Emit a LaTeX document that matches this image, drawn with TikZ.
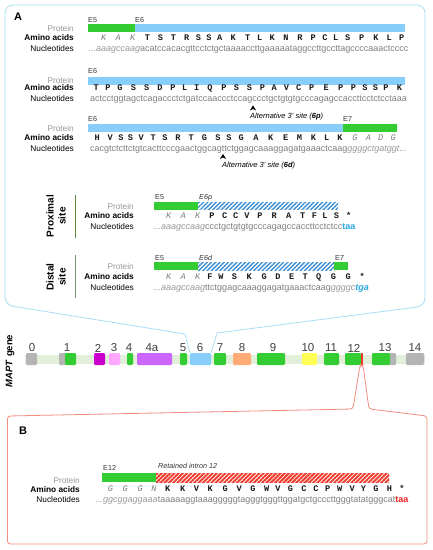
\documentclass[tikz,border=0pt]{standalone}
\usepackage{fontspec}
\setmainfont{Liberation Sans}
\newfontfamily\aafont{Liberation Mono}
\usetikzlibrary{patterns.meta}
\definecolor{exblue}{HTML}{87CEFA}
\definecolor{exgreen}{HTML}{33CC33}
\definecolor{frameblue}{HTML}{A9DDF5}
\definecolor{framered}{HTML}{F28C7E}
\definecolor{bbgreen}{HTML}{E2EFDA}
\definecolor{exgray}{HTML}{B4B4B4}
\definecolor{exmag}{HTML}{CC00CC}
\definecolor{expink}{HTML}{FFA6FF}
\definecolor{expurple}{HTML}{CC66FF}
\definecolor{exorange}{HTML}{FFAA77}
\definecolor{exyellow}{HTML}{FFFF55}
\definecolor{exred}{HTML}{F03C2E}
\definecolor{hatchblue}{HTML}{3D8FD6}
\definecolor{stopcyan}{HTML}{2AA8E0}
\definecolor{stopred}{HTML}{EE2222}
\definecolor{ntgray}{HTML}{808080}
\definecolor{ntlight}{HTML}{9A9A9A}
\definecolor{aaital}{HTML}{808080}
\definecolor{protgray}{HTML}{999999}
\definecolor{aacol}{HTML}{1A1A1A}
\definecolor{proxgreen}{HTML}{5E8C3E}
\definecolor{distgreen}{HTML}{7A9468}
\newcommand\aait[1]{{\aafont\itshape\fontsize{8.6}{9}\selectfont\color{aaital}#1}}
\newcommand\aabf[1]{{\aafont\bfseries\fontsize{8.6}{9}\selectfont\color{aacol}#1}}
\newcommand\ntit[1]{{\itshape\color{ntlight}#1}}
\newcommand\dotsx{{\itshape\color{ntlight}.\kern-0.2pt.\kern-0.2pt.}}
\begin{document}
\begin{tikzpicture}[x=1pt,y=-1pt,
  seq/.style={anchor=base west, inner sep=0pt, font=\fontsize{9}{10.8}\selectfont, text=ntgray},
  rowlbl/.style={anchor=base east, inner sep=0pt, font=\fontsize{8.3}{10}\selectfont},
  prot/.style={rowlbl, text=protgray},
  aalbl/.style={rowlbl, font=\bfseries\fontsize{8.3}{10}\selectfont},
  exlbl/.style={anchor=base west, inner sep=0pt, font=\fontsize{7.2}{8}\selectfont, text=black!80},
  altlbl/.style={anchor=west, inner sep=0pt, font=\itshape\fontsize{7.5}{9}\selectfont},
  gnum/.style={inner sep=0pt, font=\fontsize{11.5}{12}\selectfont, text=black!75},
  panel/.style={inner sep=0pt, font=\bfseries\fontsize{11}{12}\selectfont},
  side/.style={rotate=90, align=center, inner sep=0pt, font=\bfseries\fontsize{10}{12}\selectfont},
  hatchb/.style={preaction={fill=white}, pattern={Lines[angle=45,distance=3pt,line width=1.4pt]}, pattern color=hatchblue},
  hatchr/.style={preaction={fill=white}, pattern={Lines[angle=45,distance=3pt,line width=2pt]}, pattern color=exred},
  exon/.style={rounded corners=1.2pt}
]
\useasboundingbox (0,0) rectangle (432,550);
\fill[white] (0,0) rectangle (432,550);

% ---------- Panel A frame ----------
\draw[frameblue, line width=0.8pt, rounded corners=8pt] (185,334) -- (5,305) -- (5,5) -- (425,5) -- (425,306) -- (217,333);
\draw[frameblue, line width=0.8pt] (185,334) -- (190,353);
\draw[frameblue, line width=0.8pt] (217,333) -- (211,353);
\node[panel] (A) at (18,17) {A};

% ---------- Row 1 ----------
\fill[exgreen] (88,24) rectangle (135,32);
\fill[exblue] (135,24) rectangle (405,32);
\node[exlbl] (r1e5) at (88,22.6) {E5};
\node[exlbl] (r1e6) at (135,22.6) {E6};
\node[prot] (r1p) at (74,31) {Protein};
\node[aalbl] (r1a) at (74,40.5) {Amino acids};
\node[rowlbl] (r1n) at (74,51.3) {Nucleotides};
\node[seq] (s1) at (96,51.3) {\begin{tabular}[b]{@{}*{24}{c@{}}}
\aait K&\aait A&\aait K&\aabf T&\aabf S&\aabf T&\aabf R&\aabf S&\aabf S&\aabf A&\aabf K&\aabf T&\aabf L&\aabf K&\aabf N&\aabf R&\aabf P&\aabf C&\aabf L&\aabf S&\aabf P&\aabf K&\aabf L&\aabf P\\
\ntit{aaa}&\ntit{gcc}&\ntit{aag}&aca&tcc&aca&cgt&tcc&tct&gct&aaa&acc&ttg&aaa&aat&agg&cct&tgc&ctt&agc&ccc&aaa&ctc&ccc
\end{tabular}};
\node[seq, anchor=base east] (d1) at (s1.base west) {\dotsx};

% ---------- Row 2 ----------
\fill[exblue] (88,77) rectangle (405,84.5);
\node[exlbl] (r2e6) at (88,73.6) {E6};
\node[prot] (r2p) at (74,83) {Protein};
\node[aalbl] (r2a) at (74,90.5) {Amino acids};
\node[rowlbl] (r2n) at (74,101.3) {Nucleotides};
\node[seq] (s2) at (90,101.3) {\begin{tabular}[b]{@{}*{25}{c@{}}}
\aabf T&\aabf P&\aabf G&\aabf S&\aabf S&\aabf D&\aabf P&\aabf L&\aabf I&\aabf Q&\aabf P&\aabf S&\aabf S&\aabf P&\aabf A&\aabf V&\aabf C&\aabf P&\aabf E&\aabf P&\aabf P&\aabf S&\aabf S&\aabf P&\aabf K\\
act&cct&ggt&agc&tca&gac&cct&ctg&atc&caa&ccc&tcc&agc&cct&gct&gtg&tgc&cca&gag&cca&cct&tcc&tct&cct&aaa
\end{tabular}};
\fill (249.8,110.6) -- (253,105.4) -- (256.2,110.6) -- (253,108.9) -- cycle;
\node[altlbl] (alt6p) at (250,117) {Alternative 3' site (\textbf{6p})};

% ---------- Row 3 ----------
\fill[exblue] (88,124) rectangle (343,132);
\fill[exgreen] (343,124) rectangle (397,132);
\node[exlbl] (r3e6) at (88,121.6) {E6};
\node[exlbl] (r3e7) at (343,121.6) {E7};
\node[prot] (r3p) at (74,131) {Protein};
\node[aalbl] (r3a) at (74,140.5) {Amino acids};
\node[rowlbl] (r3n) at (74,151.3) {Nucleotides};
\node[seq] (s3) at (90,151.3) {\begin{tabular}[b]{@{}*{24}{c@{}}}
\aabf H&\aabf V&\aabf S&\aabf S&\aabf V&\aabf T&\aabf S&\aabf R&\aabf T&\aabf G&\aabf S&\aabf S&\aabf G&\aabf A&\aabf K&\aabf E&\aabf M&\aabf K&\aabf L&\aabf K&\aait G&\aait A&\aait D&\aait G\\
cac&gtc&tct&tct&gtc&act&tcc&cga&act&ggc&agt&tct&gga&gca&aag&gag&atg&aaa&ctc&aag&\ntit{ggg}&\ntit{gct}&\ntit{gat}&\ntit{ggt}
\end{tabular}};
\node[seq] (d3) at (s3.base east) {\dotsx};
\fill (219.8,159.1) -- (223,153.9) -- (226.2,159.1) -- (223,157.4) -- cycle;
\node[altlbl] (alt6d) at (222,166) {Alternative 3' site (\textbf{6d})};

% ---------- Proximal ----------
\node[side] (prox) at (56,216) {Proximal\\site};
\draw[proxgreen, line width=1pt] (75,195) -- (75,238);
\fill[exgreen] (154,202) rectangle (198,209.5);
\path[hatchb] (198,202) rectangle (338,209.5);
\node[exlbl] (pe5) at (155,199.6) {E5};
\node[exlbl, font=\itshape\fontsize{7.2}{8}\selectfont] (pe6) at (199,199.6) {E6p};
\node[prot] (pp) at (134,209) {Protein};
\node[aalbl] (pa) at (134,218.5) {Amino acids};
\node[rowlbl] (pn) at (134,229.3) {Nucleotides};
\node[seq] (sp) at (161,229.3) {\begin{tabular}[b]{@{}*{15}{c@{}}}
\aait K&\aait A&\aait K&\aabf P&\aabf C&\aabf C&\aabf V&\aabf P&\aabf R&\aabf A&\aabf T&\aabf F&\aabf L&\aabf S&\aabf *\\
\ntit{aaa}&\ntit{gcc}&\ntit{aag}&ccc&tgc&tgt&gtg&ccc&aga&gcc&acc&ttc&ctc&tcc&{\bfseries\color{stopcyan}taa}
\end{tabular}};
\node[seq, anchor=base east] (dp) at (sp.base west) {\dotsx};

% ---------- Distal ----------
\node[side] (dist) at (56,277) {Distal\\site};
\draw[distgreen, line width=1pt] (75,255) -- (75,298);
\fill[exgreen] (154,262) rectangle (198,270);
\path[hatchb] (198,262) rectangle (334,270);
\fill[exgreen] (334,262) rectangle (348,270);
\node[exlbl] (de5) at (155,260.6) {E5};
\node[exlbl, font=\itshape\fontsize{7.2}{8}\selectfont] (de6) at (199,260.6) {E6d};
\node[exlbl] (de7) at (335,260.6) {E7};
\node[prot] (dpr) at (134,269) {Protein};
\node[aalbl] (da) at (134,279.3) {Amino acids};
\node[rowlbl] (dn) at (134,290.3) {Nucleotides};
\node[seq] (sd) at (161,290.3) {\begin{tabular}[b]{@{}*{15}{c@{}}}
\aait K&\aait A&\aait K&\aabf F&\aabf W&\aabf S&\aabf K&\aabf G&\aabf D&\aabf E&\aabf T&\aabf Q&\aabf G&\aabf G&\aabf *\\
\ntit{aaa}&\ntit{gcc}&\ntit{aag}&ttc&tgg&agc&aaa&gga&gat&gaa&act&caa&g\ntit{gg}&\ntit{ggc}&{\bfseries\itshape\color{stopcyan}tga}
\end{tabular}};
\node[seq, anchor=base east] (dd) at (sd.base west) {\dotsx};

% ---------- MAPT gene ----------
\node[rotate=90, inner sep=0pt, font=\bfseries\fontsize{9.5}{11}\selectfont] (mapt) at (10,361) {\textit{MAPT} gene};
\fill[bbgreen] (25,354.5) rectangle (425,363.5);
\foreach \a/\b/\c in {26/37/exgray, 59/66/exgray, 65/76/exgreen, 94/105/exmag, 109/120/expink,
  127/133/exgreen, 137/172/expurple, 180/187/exgreen, 190/211/exblue, 214/226/exgreen,
  233/251/exorange, 257/285/exgreen, 302/317/exyellow, 324/339/exgreen, 345/361/exgreen,
  389/396/exgray, 372/390/exgreen, 406/424/exgray}
  \fill[\c, exon] (\a,353) rectangle (\b,365);
\fill[exred] (361,353) rectangle (362.8,365);
\foreach \x/\t [count=\i] in {32/0, 67/1, 98/2, 114/3, 129/4, 152/4a, 183/5, 200/6, 220/7,
  242/8, 273/9, 308/10, 331/11, 354/12, 385/13, 415/14}
  \node[gnum] (g\i) at (\x,348) {\t};

% ---------- Panel B ----------
\draw[framered, line width=0.8pt, rounded corners=3pt] (7.5,416) -- (353,409) -- (360,365) -- (363,365) -- (369,409) -- (427,416) -- (427,544) -- (7.5,544) -- cycle;
\node[panel] (B) at (23,431) {B};
\fill[exgreen] (102,473) rectangle (156,482);
\path[hatchr] (156,473) rectangle (389,482);
\node[exlbl] (be12) at (103,470.6) {E12};
\node[exlbl, font=\itshape\fontsize{7.2}{8}\selectfont] (bret) at (158,468.6) {Retained intron 12};
\node[prot] (bp) at (80,483) {Protein};
\node[aalbl] (ba) at (80,492.3) {Amino acids};
\node[rowlbl] (bn) at (80,502.3) {Nucleotides};
\node[seq] (sb) at (103,502.3) {\begin{tabular}[b]{@{}*{23}{c@{}}}
\aait G&\aait G&\aait G&\aait N&\aabf K&\aabf K&\aabf V&\aabf K&\aabf G&\aabf V&\aabf G&\aabf W&\aabf V&\aabf G&\aabf C&\aabf C&\aabf P&\aabf W&\aabf V&\aabf Y&\aabf G&\aabf H&\aabf *\\
\ntit{ggc}&\ntit{gga}&\ntit{gga}&\ntit{aa}t&aaa&aag&gta&aag&ggg&gta&ggg&tgg&gtt&gga&tgc&tgc&cct&tgg&gta&tat&ggg&cat&{\bfseries\color{stopred}taa}
\end{tabular}};
\node[seq, anchor=base east] (db) at (sb.base west) {\dotsx};
\end{tikzpicture}
\end{document}
